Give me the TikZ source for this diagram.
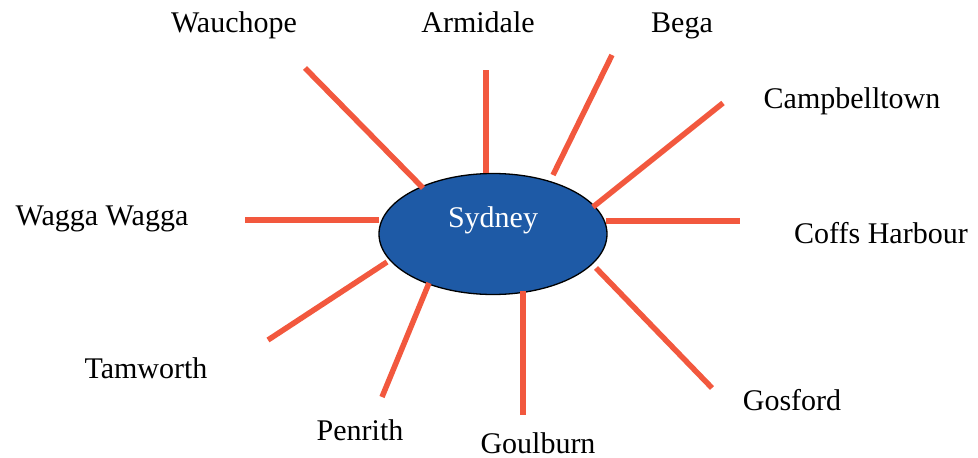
\documentclass[tikz,border=0pt]{standalone}
\usepackage{fontspec}
\setmainfont{Liberation Serif}
\usepackage{tikz}
\usetikzlibrary{shapes.geometric, positioning}
\definecolor{spokered}{RGB}{242, 88, 62}
\definecolor{hubblue}{RGB}{30, 90, 166}

\begin{document}
\begin{tikzpicture}[
  x=1pt, y=-1pt,
  hub/.style={ellipse, draw=black, line width=1.3pt, fill=hubblue, minimum width=228pt, minimum height=121pt, inner sep=0pt},
  hubtext/.style={text=white, font=\fontsize{30}{35}\selectfont, inner sep=0pt},
  town/.style={anchor=base, font=\fontsize{30}{35}\selectfont, inner sep=0pt},
  spoke/.style={line width=5.5pt, spokered}
]
\useasboundingbox (0,0) rectangle (978,458);

% Hub
\node[hub] (sydney) at (493,234) {};
\node[hubtext, anchor=base] (sydneyText) at ([yshift=7pt]sydney.center) {Sydney};

% Town labels
\node[town] (wauchope) at (234,32) {Wauchope};
\node[town] (armidale) at (478,32) {Armidale};
\node[town] (bega) at (682,32) {Bega};
\node[town] (campbelltown) at (852,108) {Campbelltown};
\node[town] (coffs) at (881,243) {Coffs Harbour};
\node[town] (gosford) at (792,410) {Gosford};
\node[town] (goulburn) at (538,453) {Goulburn};
\node[town] (penrith) at (360,440) {Penrith};
\node[town] (tamworth) at (146,378) {Tamworth};
\node[town] (wagga) at (102,225) {Wagga Wagga};

% Spoke ends
\coordinate (wauIn) at (423,188);   \coordinate (wauOut) at (305,68);
\coordinate (armIn) at (486,173);   \coordinate (armOut) at (486,70);
\coordinate (begIn) at (553,175);   \coordinate (begOut) at (612,55);
\coordinate (camIn) at (593,207);   \coordinate (camOut) at (723,103);
\coordinate (cofIn) at (606,221);   \coordinate (cofOut) at (740,221);
\coordinate (gosIn) at (596,268);   \coordinate (gosOut) at (712,388);
\coordinate (gouIn) at (523,291);   \coordinate (gouOut) at (523,415);
\coordinate (penIn) at (429,283);   \coordinate (penOut) at (382,397);
\coordinate (tamIn) at (387,262);   \coordinate (tamOut) at (268,340);
\coordinate (wagIn) at (379,220);   \coordinate (wagOut) at (245,220);

% Spokes
\draw[spoke] (wauIn) -- (wauOut);
\draw[spoke] (armIn) -- (armOut);
\draw[spoke] (begIn) -- (begOut);
\draw[spoke] (camIn) -- (camOut);
\draw[spoke] (cofIn) -- (cofOut);
\draw[spoke] (gosIn) -- (gosOut);
\draw[spoke] (gouIn) -- (gouOut);
\draw[spoke] (penIn) -- (penOut);
\draw[spoke] (tamIn) -- (tamOut);
\draw[spoke] (wagIn) -- (wagOut);

\end{tikzpicture}
\end{document}
